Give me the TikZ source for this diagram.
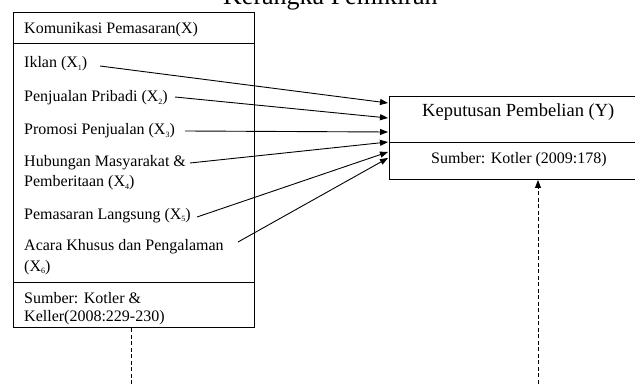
\documentclass[tikz,border=0pt]{standalone}
\usepackage{fontspec}
\setmainfont{Liberation Serif}
\usetikzlibrary{arrows.meta}
\newcommand{\mysub}[1]{\raisebox{-2.5pt}{\fontsize{8}{8}\selectfont #1}}
\begin{document}
\begin{tikzpicture}[x=1pt,y=-1pt,
  box/.style={draw, line width=1pt, inner sep=0, anchor=north west},
  itemtext/.style={anchor=base west, inner sep=0, font=\fontsize{16}{18}\selectfont},
  conn/.style={line width=0.9pt, -{Triangle[length=8pt,width=6pt]}},
  dashline/.style={line width=0.9pt, dash pattern=on 4pt off 2.5pt}]
\useasboundingbox (0,0) rectangle (635,385);
\fill[white] (0,0) rectangle (635,385);
% title
\node[anchor=base west, inner sep=0, font=\fontsize{26}{28}\selectfont] (title) at (223,5) {Kerangka Pemikiran};
% left boxes
\node[box, minimum width=241pt, minimum height=31pt] (lhead) at (13,12) {};
\node[box, minimum width=241pt, minimum height=239pt] (lbody) at (13,43) {};
\node[box, minimum width=241pt, minimum height=45pt] (lfoot) at (13,282) {};
% right boxes
\node[box, minimum width=260pt, minimum height=46pt] (rhead) at (389,96) {};
\node[box, minimum width=260pt, minimum height=37pt] (rfoot) at (389,142) {};
% left texts
\node[itemtext] (hx) at (24,34) {Komunikasi Pemasaran(X)};
\node[itemtext] (x1) at (24,68) {Iklan (X\mysub{1})};
\node[itemtext] (x2) at (24,102) {Penjualan Pribadi (X\mysub{2})};
\node[itemtext] (x3) at (24,135) {Promosi Penjualan  (X\mysub{3})};
\node[itemtext] (x4) at (24,167) {Hubungan Masyarakat \&};
\node[itemtext] (x4b) at (24,187) {Pemberitaan (X\mysub{4})};
\node[itemtext] (x5) at (24,219) {Pemasaran Langsung (X\mysub{5})};
\node[itemtext] (x6) at (24,251) {Acara Khusus dan Pengalaman};
\node[itemtext] (x6b) at (24,271) {(X\mysub{6})};
\node[itemtext] (src1) at (24,303) {Sumber: Kotler \&};
\node[itemtext] (src1b) at (24,321) {Keller(2008:229-230)};
% right texts
\node[anchor=base west, inner sep=0, font=\fontsize{18.5}{20}\selectfont] (y) at (422,117) {Keputusan Pembelian (Y)};
\node[itemtext] (src2) at (431,164) {Sumber: Kotler (2009:178)};
% connector endpoints
\coordinate (s1) at (100,66);  \coordinate (e1) at (388,103);
\coordinate (s2) at (175,97);  \coordinate (e2) at (388,118);
\coordinate (s3) at (185,131); \coordinate (e3) at (388,132);
\coordinate (s4) at (190,163); \coordinate (e4) at (388,142);
\coordinate (s5) at (197,217); \coordinate (e5) at (388,152);
\coordinate (s6) at (238,242); \coordinate (e6) at (388,158);
\draw[conn] (s1) -- (e1);
\draw[conn] (s2) -- (e2);
\draw[conn] (s3) -- (e3);
\draw[conn] (s4) -- (e4);
\draw[conn] (s5) -- (e5);
\draw[conn] (s6) -- (e6);
% dashed lines
\coordinate (ld) at (131,390);
\draw[dashline] (ld |- lfoot.south) -- (ld);
\coordinate (rd) at (538,390);
\draw[dashline, -{Triangle[length=8pt,width=6pt]}] (rd) -- (rd |- rfoot.south);
\end{tikzpicture}
\end{document}
